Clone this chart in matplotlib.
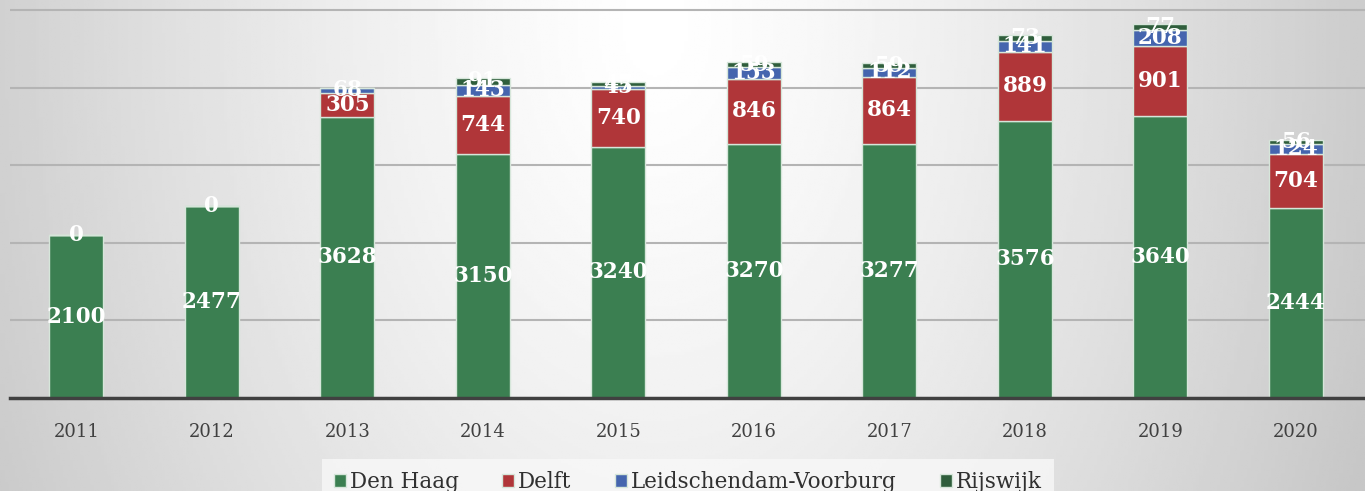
import numpy as np
import matplotlib
matplotlib.use('Agg')
import matplotlib.pyplot as plt

years = ['2011', '2012', '2013', '2014', '2015', '2016', '2017', '2018', '2019', '2020']
den_haag = [2100, 2477, 3628, 3150, 3240, 3270, 3277, 3576, 3640, 2444]
delft = [0, 0, 305, 744, 740, 846, 864, 889, 901, 704]
leidschendam = [None, None, 68, 143, 45, 153, 112, 141, 208, 124]
rijswijk = [None, None, None, 91, 47, 59, 59, 73, 77, 56]

series = [
    ('Den Haag', den_haag, '#3b7f51'),
    ('Delft', delft, '#b03639'),
    ('Leidschendam-Voorburg', leidschendam, '#4565ae'),
    ('Rijswijk', rijswijk, '#2f5e3c'),
]

fig = plt.figure(figsize=(13.65, 4.91), dpi=100)

# background gradient (light in the middle, grey towards the sides)
bg = fig.add_axes([0, 0, 1, 1], zorder=-10)
xx, yy = np.meshgrid(np.linspace(0, 1, 400), np.linspace(0, 1, 200))
r = np.sqrt(((xx - 0.48) / 0.52) ** 2 + ((yy - 0.05) / 2.2) ** 2)
shade = np.clip(1.0 - 0.2 * r ** 1.3, 0.78, 1.0)
bg.imshow(shade, cmap='gray', vmin=0, vmax=1, aspect='auto', extent=[0, 1, 1, 0])
bg.set_axis_off()

ax = fig.add_axes([10 / 1365, 93 / 491, 1355 / 1365, 398 / 491])
ax.set_facecolor('none')

x = np.arange(len(years))
bottom = np.zeros(len(years))
for name, vals, color in series:
    v = np.array([np.nan if a is None else a for a in vals], dtype=float)
    h = np.nan_to_num(v)
    ax.bar(x, h, 0.4, bottom=bottom, color=color, edgecolor='#d6e6da',
           linewidth=1, label=name, zorder=3)
    for i in range(len(years)):
        if not np.isnan(v[i]):
            ax.text(x[i], bottom[i] + h[i] / 2, f'{int(v[i])}', ha='center', va='center',
                    color='white', fontsize=15.5, fontweight='bold',
                    family='DejaVu Serif', zorder=5)
    bottom += h

ax.set_xlim(-0.49, 9.51)
ax.set_ylim(0, 5130)
ax.set_yticks([1000, 2000, 3000, 4000, 5000])
ax.yaxis.grid(True, color='#b4b4b4', linewidth=1.5, zorder=0)
ax.tick_params(axis='y', left=False, labelleft=False)
ax.set_xticks(x)
ax.set_xticklabels(years, family='DejaVu Serif', fontsize=13, color='#404040')
ax.tick_params(axis='x', length=0, pad=18)
for s in ['top', 'right', 'left']:
    ax.spines[s].set_visible(False)
ax.spines['bottom'].set_color('#404040')
ax.spines['bottom'].set_linewidth(2.5)
ax.spines['bottom'].set_zorder(6)

leg = fig.legend(loc='lower center', bbox_to_anchor=(0.504, -0.05), ncol=4,
                 prop={'family': 'DejaVu Serif', 'size': 15.5}, frameon=True,
                 handlelength=0.55, handleheight=0.55, handletextpad=0.2,
                 columnspacing=2.0, borderpad=0.55, fancybox=False)
leg.get_frame().set_facecolor('#f8f8f8')
leg.get_frame().set_edgecolor('none')
for t in leg.get_texts():
    t.set_color('#303030')

fig.savefig('out.png', dpi=100)
